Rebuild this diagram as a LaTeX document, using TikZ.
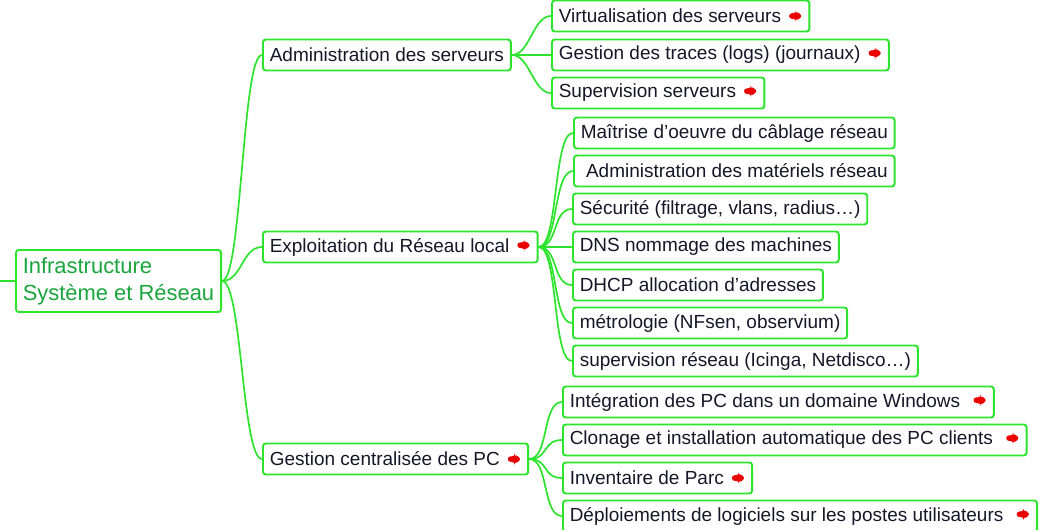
\documentclass[tikz,border=0pt]{standalone}
\usepackage{fontspec}
\setmainfont{Liberation Sans}
\definecolor{mapGreen}{RGB}{45,228,45}
\definecolor{rootGreen}{RGB}{25,165,60}
\definecolor{inkDark}{RGB}{22,22,40}
\definecolor{goRed}{RGB}{235,0,0}
% small red "go" icon after a topic
\newcommand\go{\hspace{0.2cm}\tikz[baseline=-4.8pt, x=1pt, y=1pt]
  \fill[goRed] (0,2) -- (5,2) -- (5,3.6) -- (9.6,0) -- (5,-3.6)
    -- (5,-2) -- (0,-2) -- cycle;}

\begin{document}
\begin{tikzpicture}[
  x=0.025cm, y=-0.025cm,
  topic/.style={draw=mapGreen, line width=1.4pt, rounded corners=2pt, anchor=west,
    minimum height=0.775cm, inner xsep=0.17cm, inner ysep=0pt,
    font=\fontsize{13.5pt}{16pt}\selectfont, text=inkDark},
  rootbox/.style={topic, minimum height=1.55cm, align=left, text=rootGreen,
    font=\fontsize{15.6pt}{19pt}\selectfont},
  link/.style={draw=mapGreen, line width=1.2pt},
  branch/.style={to path={.. controls +(#1,0) and +(-#1,0) .. (\tikztotarget)}}
]
\useasboundingbox (0,0) rectangle (1040,530);

% central topic
\node[rootbox] (root) at (15,281) {Infrastructure\\Système et Réseau};
\coordinate (offmap) at (0,281);
\draw[link] (offmap) -- (root.west);

% main branches
\node[topic] (admin)   at (262,55)  {Administration des serveurs\ };
\node[topic] (exploit) at (262,247) {Exploitation du Réseau local\go};
\node[topic] (gestpc)  at (262,459) {Gestion centralisée des PC\go};

% servers
\node[topic] (virt)   at (551,16) {Virtualisation des serveurs\go};
\node[topic] (logs)   at (551,55) {Gestion des traces (logs) (journaux)\go};
\node[topic] (supsrv) at (551,93) {Supervision serveurs\go};

% local network
\node[topic] (cabl)   at (573,133) {Maîtrise d’oeuvre du câblage réseau};
\node[topic] (mater)  at (573,171) {\ Administration des matériels réseau};
\node[topic] (secu)   at (572,209) {Sécurité (filtrage, vlans, radius…)};
\node[topic] (dns)    at (572,247) {DNS nommage des machines};
\node[topic] (dhcp)   at (572,285) {DHCP allocation d’adresses};
\node[topic] (metro)  at (572,323) {métrologie (NFsen, observium)};
\node[topic] (supres) at (572,361) {supervision réseau (Icinga, Netdisco…)};

% PC management
\node[topic] (integ)  at (562,402) {Intégration des PC dans un domaine Windows\ \go};
\node[topic] (clone)  at (562,440) {Clonage et installation automatique des PC clients\ \go};
\node[topic] (invent) at (562,478) {Inventaire de Parc\go};
\node[topic] (deploy) at (562,516) {Déploiements de logiciels sur les postes utilisateurs\ \go};

% connectors
\foreach \kid in {admin,exploit,gestpc}
  \draw[link] (root.east) to[branch=20] (\kid.west);
\foreach \kid in {virt,logs,supsrv}
  \draw[link] (admin.east) to[branch=18] (\kid.west);
\foreach \kid in {cabl,mater,secu,dns,dhcp,metro,supres}
  \draw[link] (exploit.east) to[branch=20] (\kid.west);
\foreach \kid in {integ,clone,invent,deploy}
  \draw[link] (gestpc.east) to[branch=20] (\kid.west);
\end{tikzpicture}
\end{document}
